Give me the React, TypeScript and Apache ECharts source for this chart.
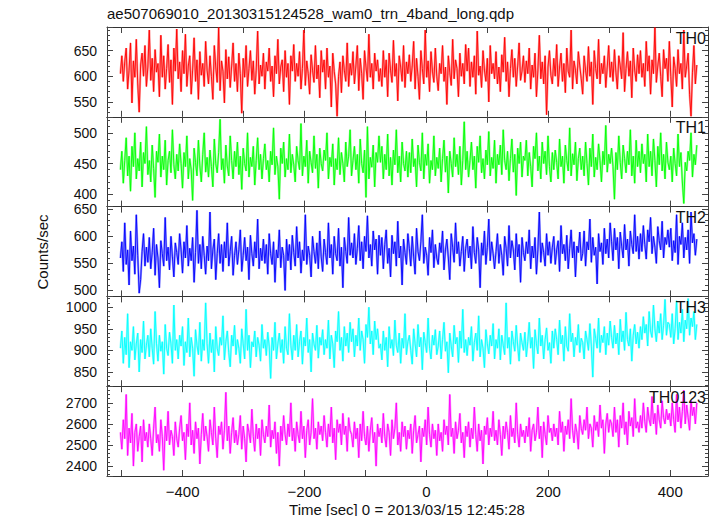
import React, { useEffect, useRef } from "react";
import * as echarts from "echarts";

// Time bins (start and width of each bin, in seconds)
const BIN_START = -502;
const BIN_WIDTH = 2.37;

const TH0 = [
  605, 640, 590, 628, 655, 575, 612, 665, 548, 630, 598, 672, 585, 530, 622, 645, 600, 660, 580, 618,
  690, 592, 635, 570, 652, 608, 625, 560, 680, 598, 640, 575, 615, 662, 588, 632, 545, 655, 610, 692,
  595, 628, 570, 650, 605, 682, 580, 620, 640, 565, 612, 675, 590, 632, 555, 648, 602, 625, 580, 668,
  612, 585, 640, 600, 555, 660, 618, 588, 695, 572, 630, 610, 548, 652, 595, 638, 578, 620, 665, 590,
  625, 570, 645, 605, 528, 635, 598, 660, 580, 615, 650, 592, 630, 565, 612, 688, 585, 622, 600, 645,
  575, 628, 610, 655, 590, 620, 560, 640, 605, 672, 585, 618, 632, 570, 650, 598, 625, 545, 640, 610,
  662, 590, 625, 600, 648, 575, 615, 690, 582, 630, 605, 565, 642, 612, 588, 660, 595, 622, 558, 650,
  608, 632, 575, 655, 598, 620, 540, 645, 610, 585, 522, 600, 628, 568, 640, 612, 590, 665, 580, 625,
  602, 648, 585, 620, 660, 572, 635, 605, 555, 650, 618, 590, 682, 598, 625, 575, 645, 610, 632, 590,
  615, 580, 650, 598, 632, 560, 645, 612, 588, 670, 600, 625, 552, 640, 618, 590, 660, 578, 628, 605,
  642, 590, 620, 668, 575, 635, 600, 555, 650, 615, 585, 690, 598, 630, 570, 648, 610, 588, 655, 600,
  572, 625, 605, 660, 590, 618, 545, 640, 608, 582, 672, 595, 632, 615, 560, 645, 600, 625, 585, 662,
  610, 655, 580, 628, 598, 640, 565, 688, 602, 620, 578, 650, 612, 590, 635, 550, 660, 605, 625, 595,
  648, 585, 618, 570, 642, 608, 676, 590, 628, 560, 615, 652, 598, 635, 580, 620, 665, 592, 610, 640,
  588, 630, 605, 655, 575, 622, 598, 645, 560, 612, 680, 595, 628, 585, 640, 525, 618, 650, 602, 585,
  635, 600, 662, 580, 618, 645, 590, 625, 568, 655, 610, 598, 690, 575, 630, 612, 585, 648, 620, 595,
  565, 640, 612, 590, 658, 600, 628, 545, 650, 615, 595, 672, 585, 625, 605, 640, 578, 618, 660, 598,
  628, 590, 652, 608, 575, 640, 620, 595, 685, 570, 615, 648, 600, 630, 558, 655, 612, 590, 642, 605,
  650, 598, 625, 580, 668, 610, 640, 565, 632, 605, 695, 588, 620, 645, 600, 560, 652, 615, 635, 590,
  668, 600, 540, 638, 615, 580, 652, 605, 625, 575, 690, 598, 620, 645, 565, 522, 608, 660, 585, 622,
];

const TH1 = [
  440, 470, 418, 455, 492, 430, 462, 405, 478, 445, 500, 425, 458, 438, 485, 412, 468, 450, 510, 432,
  455, 420, 480, 442, 395, 470, 452, 498, 428, 462, 440, 488, 415, 455, 470, 435, 505, 448, 425, 465,
  438, 482, 450, 410, 468, 445, 495, 425, 458, 440, 390, 475, 452, 430, 488, 446, 420, 465, 500, 436,
  460, 428, 472, 445, 412, 490, 450, 435, 468, 522, 440, 458, 418, 480, 446, 430, 495, 455, 425, 470,
  445, 485, 432, 462, 408, 475, 450, 438, 500, 428, 460, 445, 478, 415, 455, 492, 440, 465, 425, 458,
  482, 440, 455, 420, 470, 448, 508, 432, 462, 445, 392, 475, 450, 485, 428, 458, 440, 498, 435, 465,
  448, 420, 478, 455, 440, 515, 430, 462, 445, 488, 418, 470, 452, 435, 495, 442, 465, 410, 475, 450,
  438, 472, 455, 500, 425, 460, 445, 482, 415, 458, 440, 492, 432, 468, 450, 420, 485, 445, 462, 505,
  430, 455, 478, 440, 465, 418, 490, 450, 435, 472, 395, 510, 425, 460, 444, 480, 412, 468, 452, 495,
  452, 478, 425, 465, 440, 498, 430, 460, 415, 472, 448, 505, 435, 462, 420, 485, 450, 438, 470, 428,
  468, 435, 490, 445, 458, 412, 480, 452, 438, 500, 425, 465, 447, 482, 418, 455, 440, 495, 430, 460,
  442, 475, 420, 458, 488, 436, 462, 402, 470, 450, 428, 492, 445, 465, 432, 478, 415, 455, 518, 440,
  470, 428, 455, 485, 440, 462, 410, 478, 452, 495, 435, 458, 425, 472, 448, 502, 430, 460, 442, 488,
  418, 465, 448, 480, 432, 505, 455, 440, 470, 422, 458, 490, 436, 465, 398, 475, 450, 485, 428, 462,
  455, 488, 430, 468, 445, 412, 478, 458, 500, 438, 462, 425, 485, 450, 470, 432, 495, 445, 420, 468,
  440, 472, 452, 425, 490, 445, 462, 418, 480, 455, 438, 508, 430, 466, 448, 485, 422, 458, 475, 440,
  462, 430, 485, 450, 415, 475, 445, 498, 428, 460, 440, 482, 455, 420, 470, 448, 512, 436, 465, 450,
  475, 445, 392, 468, 440, 495, 452, 425, 480, 458, 435, 470, 448, 505, 430, 462, 418, 488, 445, 470,
  435, 482, 450, 465, 420, 498, 445, 470, 430, 490, 455, 412, 478, 448, 500, 438, 465, 425, 485, 452,
  440, 462, 420, 475, 450, 430, 498, 445, 468, 420, 385, 452, 438, 470, 455, 500, 428, 465, 448, 480,
];

const TH2 = [
  560, 590, 535, 625, 548, 575, 510, 610, 555, 582, 530, 640, 565, 495, 520, 572, 605, 545, 580, 552,
  598, 540, 570, 615, 528, 585, 560, 505, 592, 568, 545, 635, 555, 580, 538, 600, 562, 525, 588, 570,
  548, 605, 575, 532, 590, 560, 620, 545, 578, 555, 598, 515, 570, 648, 550, 585, 540, 600, 565, 530,
  582, 555, 645, 540, 575, 595, 520, 568, 605, 550, 585, 535, 590, 560, 625, 545, 572, 600, 528, 565,
  590, 548, 575, 612, 535, 565, 598, 555, 580, 520, 602, 568, 545, 590, 560, 632, 540, 578, 555, 595,
  550, 585, 530, 605, 568, 548, 590, 515, 575, 560, 612, 542, 580, 565, 500, 595, 555, 585, 538, 602,
  570, 545, 618, 560, 590, 532, 575, 555, 640, 548, 582, 565, 525, 600, 572, 550, 588, 540, 610, 562,
  535, 595, 570, 548, 625, 560, 585, 530, 600, 568, 555, 615, 545, 580, 505, 598, 572, 550, 635, 565,
  588, 560, 605, 548, 578, 620, 555, 590, 540, 600, 572, 638, 560, 585, 545, 610, 575, 595, 530, 602,
  565, 598, 540, 585, 612, 550, 578, 525, 602, 568, 590, 545, 628, 560, 582, 510, 595, 570, 548, 605,
  578, 545, 600, 562, 530, 615, 572, 555, 590, 640, 550, 580, 565, 528, 598, 570, 612, 542, 585, 560,
  548, 588, 570, 610, 538, 575, 595, 560, 520, 605, 580, 552, 625, 568, 590, 545, 572, 600, 535, 578,
  595, 560, 582, 540, 618, 570, 550, 598, 575, 505, 588, 565, 610, 548, 580, 632, 555, 590, 568, 540,
  572, 605, 550, 585, 565, 528, 600, 578, 545, 620, 560, 592, 575, 538, 605, 562, 585, 515, 598, 570,
  555, 590, 568, 612, 540, 582, 560, 598, 530, 575, 645, 552, 588, 570, 545, 605, 565, 590, 550, 580,
  600, 548, 575, 592, 535, 620, 568, 585, 555, 602, 540, 578, 612, 560, 590, 525, 582, 570, 608, 555,
  568, 610, 545, 590, 575, 632, 552, 598, 565, 580, 512, 605, 572, 588, 548, 615, 568, 595, 560, 625,
  590, 555, 615, 575, 598, 540, 608, 582, 560, 622, 575, 595, 545, 610, 585, 568, 640, 572, 600, 558,
  605, 572, 620, 585, 558, 612, 590, 635, 568, 600, 580, 550, 618, 592, 575, 628, 560, 598, 585, 612,
  580, 615, 555, 592, 570, 640, 548, 600, 585, 625, 560, 598, 575, 612, 550, 645, 588, 605, 565, 595,
];

const TH3 = [
  905, 945, 870, 930, 890, 985, 860, 920, 900, 955, 878, 915, 940, 850, 925, 895, 968, 880, 912, 935,
  885, 950, 905, 868, 990, 915, 875, 935, 898, 920, 845, 960, 905, 888, 942, 915, 870, 1005, 900, 925,
  880, 935, 910, 955, 865, 920, 895, 975, 885, 930, 905, 840, 948, 912, 890, 965, 875, 925, 900, 1010,
  915, 870, 940, 895, 925, 850, 955, 905, 888, 930, 912, 980, 878, 920, 945, 895, 862, 935, 910, 958,
  890, 925, 905, 870, 950, 915, 880, 995, 900, 935, 860, 920, 908, 945, 885, 930, 912, 875, 960, 905,
  925, 888, 942, 910, 835, 930, 900, 965, 880, 915, 940, 895, 925, 870, 955, 905, 890, 985, 912, 878,
  935, 900, 960, 885, 920, 945, 868, 930, 910, 975, 895, 925, 850, 940, 915, 900, 958, 882, 930, 912,
  948, 890, 925, 905, 970, 880, 935, 915, 860, 945, 920, 990, 900, 930, 875, 955, 910, 940, 895, 965,
  920, 950, 885, 935, 910, 975, 900, 945, 925, 870, 960, 930, 1000, 915, 945, 890, 968, 925, 950, 905,
  915, 878, 945, 900, 930, 862, 955, 905, 925, 888, 970, 912, 895, 940, 870, 928, 905, 985, 890, 920,
  935, 900, 868, 950, 915, 885, 960, 908, 930, 855, 942, 918, 895, 975, 905, 880, 935, 912, 948, 890,
  910, 945, 880, 925, 965, 898, 920, 848, 940, 910, 885, 958, 915, 930, 872, 945, 905, 995, 895, 925,
  888, 930, 912, 955, 875, 918, 940, 900, 980, 885, 925, 905, 860, 948, 915, 892, 935, 910, 962, 880,
  925, 905, 950, 878, 935, 912, 890, 1010, 905, 930, 868, 945, 920, 898, 958, 910, 875, 940, 918, 900,
  942, 885, 920, 965, 905, 930, 858, 948, 915, 892, 975, 910, 935, 880, 925, 952, 900, 918, 870, 945,
  905, 950, 925, 890, 970, 915, 935, 875, 955, 910, 898, 985, 920, 940, 885, 930, 912, 960, 895, 928,
  918, 880, 945, 925, 900, 962, 910, 838, 950, 928, 905, 975, 895, 935, 918, 955, 890, 940, 912, 968,
  930, 905, 958, 915, 940, 890, 972, 920, 945, 900, 988, 925, 910, 950, 875, 935, 960, 915, 942, 905,
  955, 925, 978, 940, 960, 910, 990, 945, 930, 1005, 950, 920, 968, 940, 985, 925, 958, 1018, 935, 965,
  960, 930, 985, 915, 950, 1015, 925, 965, 940, 995, 920, 970, 950, 1020, 935, 975, 955, 990, 925, 960,
];

const TH0123 = [
  2560, 2480, 2620, 2530, 2740, 2450, 2580, 2510, 2650, 2400, 2560, 2600, 2470, 2540, 2590, 2420, 2620, 2520, 2560, 2490,
  2600, 2530, 2450, 2580, 2680, 2510, 2550, 2470, 2620, 2540, 2380, 2590, 2520, 2660, 2500, 2570, 2540, 2450, 2610, 2530,
  2490, 2580, 2640, 2520, 2560, 2430, 2600, 2540, 2700, 2500, 2570, 2460, 2610, 2530, 2580, 2410, 2550, 2650, 2520, 2590,
  2540, 2470, 2620, 2560, 2500, 2680, 2530, 2440, 2590, 2550, 2610, 2480, 2570, 2750, 2520, 2590, 2460, 2560, 2630, 2510,
  2570, 2500, 2550, 2640, 2480, 2590, 2530, 2420, 2600, 2560, 2510, 2670, 2540, 2470, 2600, 2530, 2580, 2450, 2620, 2550,
  2510, 2590, 2540, 2690, 2490, 2570, 2530, 2610, 2460, 2560, 2400, 2590, 2520, 2640, 2550, 2500, 2600, 2540, 2700, 2520,
  2580, 2470, 2610, 2550, 2510, 2660, 2530, 2590, 2440, 2570, 2620, 2500, 2560, 2720, 2530, 2580, 2480, 2610, 2550, 2590,
  2520, 2640, 2560, 2490, 2600, 2540, 2680, 2510, 2580, 2430, 2620, 2560, 2600, 2500, 2650, 2550, 2590, 2470, 2630, 2570,
  2550, 2490, 2610, 2530, 2580, 2440, 2600, 2520, 2660, 2540, 2500, 2590, 2470, 2570, 2630, 2510, 2560, 2400, 2600, 2540,
  2580, 2510, 2650, 2540, 2490, 2600, 2560, 2450, 2620, 2530, 2580, 2700, 2500, 2560, 2470, 2610, 2540, 2590, 2480, 2570,
  2530, 2600, 2460, 2570, 2640, 2510, 2550, 2590, 2420, 2580, 2540, 2620, 2500, 2680, 2550, 2490, 2600, 2530, 2570, 2450,
  2600, 2520, 2560, 2470, 2620, 2550, 2590, 2500, 2740, 2540, 2580, 2460, 2610, 2530, 2570, 2650, 2510, 2560, 2440, 2590,
  2540, 2610, 2490, 2580, 2530, 2680, 2550, 2470, 2600, 2520, 2570, 2410, 2590, 2550, 2630, 2500, 2580, 2540, 2660, 2520,
  2570, 2500, 2620, 2550, 2450, 2590, 2530, 2610, 2560, 2480, 2640, 2540, 2580, 2510, 2700, 2550, 2490, 2600, 2540, 2570,
  2510, 2590, 2540, 2630, 2470, 2570, 2600, 2520, 2560, 2680, 2530, 2590, 2440, 2610, 2550, 2500, 2640, 2560, 2580, 2520,
  2600, 2540, 2580, 2500, 2660, 2560, 2610, 2470, 2590, 2550, 2620, 2530, 2720, 2570, 2510, 2600, 2560, 2480, 2640, 2580,
  2550, 2620, 2570, 2680, 2530, 2600, 2580, 2490, 2640, 2570, 2610, 2540, 2690, 2580, 2620, 2460, 2600, 2650, 2560, 2620,
  2600, 2540, 2680, 2560, 2620, 2490, 2640, 2580, 2700, 2550, 2610, 2500, 2660, 2590, 2630, 2540, 2720, 2580, 2610, 2560,
  2640, 2580, 2700, 2610, 2560, 2680, 2620, 2590, 2730, 2600, 2650, 2550, 2690, 2620, 2580, 2710, 2630, 2600, 2670, 2620,
  2650, 2590, 2700, 2620, 2560, 2740, 2610, 2680, 2580, 2660, 2760, 2600, 2690, 2630, 2570, 2710, 2640, 2680, 2600, 2700,
];

const SERIES_VALUES = [TH0, TH1, TH2, TH3, TH0123];
const PANEL_NAMES = ["TH0", "TH1", "TH2", "TH3", "TH0123"];
const COLORS = ["#ff0000", "#00ff00", "#0000ff", "#00ffff", "#ff00ff"];
const HALO = ["rgba(255,0,0,0.4)", "rgba(0,255,0,0.4)", "rgba(0,0,255,0.4)", "rgba(0,255,255,0.4)", "rgba(255,0,255,0.4)"];
const Y_MIN = [521, 380, 489, 817, 2353];
const Y_MAX = [696, 526, 655, 1025, 2779];
const Y_LABEL_STEP = [50, 50, 50, 50, 100];
const Y_SPLIT = [4, 3, 3, 4, 4];
const X_MIN = -524;
const X_MAX = 462;
const X_LABEL_STEP = 200;

const TITLE = "ae507069010_20130315124528_wam0_trn_4band_long.qdp";
const X_TITLE = "Time [sec] 0 = 2013/03/15 12:45:28";
const Y_TITLE = "Counts/sec";

const FONT = "'Liberation Sans', Arial, Helvetica, sans-serif";

export default function App() {
  const ref = useRef<HTMLDivElement>(null);
  useEffect(() => {
    if (!ref.current) return;
    const chart = echarts.init(ref.current, undefined, { renderer: "svg" });
    const GRID_LEFT = 107;
    const GRID_RIGHT = 9;
    const TOP = 27;
    const PH = 89.8;
    const grids: any[] = [];
    const xAxes: any[] = [];
    const yAxes: any[] = [];
    const series: any[] = [];
    const graphics: any[] = [];
    const lineCol = "#333";
    const tickCol = "#444";
    for (let i = 0; i < 5; i++) {
      grids.push({
        left: GRID_LEFT,
        right: GRID_RIGHT,
        top: TOP + i * PH,
        height: PH,
        show: false,
        outerBoundsMode: "none",
      });
      const xBase = {
        type: "value",
        gridIndex: i,
        min: X_MIN,
        max: X_MAX,
        splitNumber: 10,
        splitLine: { show: false },
        axisLine: { show: true, onZero: false, lineStyle: { color: lineCol, width: 1 } },
        axisTick: { show: true, inside: true, length: 6, lineStyle: { color: tickCol } },
      };
      xAxes.push({
        ...xBase,
        position: "bottom",
        axisLabel: {
          show: i === 4,
          fontSize: 15,
          color: "#111",
          fontFamily: FONT,
          margin: 8,
          formatter: (v: number) =>
            Math.abs(v % X_LABEL_STEP) < 1e-6 ? (v < 0 ? "\u2212" + Math.abs(v) : String(v)) : "",
        },
      });
      xAxes.push({ ...xBase, position: "top", axisLabel: { show: false } });
      const yBase = {
        type: "value",
        gridIndex: i,
        min: Y_MIN[i],
        max: Y_MAX[i],
        splitNumber: Y_SPLIT[i],
        splitLine: { show: false },
        axisLine: { show: true, onZero: false, lineStyle: { color: lineCol, width: 1 } },
        axisTick: { show: true, inside: true, length: 6, lineStyle: { color: tickCol } },
        minorTick: { show: true, splitNumber: 5, length: 3, lineStyle: { color: tickCol } },
      };
      const step = Y_LABEL_STEP[i];
      yAxes.push({
        ...yBase,
        position: "left",
        axisLabel: {
          show: true,
          fontSize: 14,
          color: "#111",
          fontFamily: FONT,
          margin: 10,
          formatter: (v: number) => (Math.abs(v % step) < 1e-6 ? String(v) : ""),
        },
      });
      yAxes.push({ ...yBase, position: "right", axisLabel: { show: false } });

      const data = SERIES_VALUES[i].map((v, k) => [BIN_START + k * BIN_WIDTH, v]);
      series.push({
        type: "line",
        xAxisIndex: i * 2,
        yAxisIndex: i * 2,
        data,
        showSymbol: false,
        symbol: "none",
        lineStyle: { color: HALO[i], width: 2.2 },
        silent: true,
        z: 2,
      });
      series.push({
        type: "line",
        xAxisIndex: i * 2,
        yAxisIndex: i * 2,
        data,
        showSymbol: false,
        symbol: "none",
        lineStyle: { color: COLORS[i], width: 0.9 },
        silent: true,
        z: 3,
      });
      graphics.push({
        type: "text",
        right: 11,
        top: TOP + i * PH + 3,
        z: 10,
        style: { text: PANEL_NAMES[i], fontSize: 16, fill: "#111", fontFamily: FONT },
      });
    }
    graphics.push({
      type: "text",
      left: GRID_LEFT,
      top: 6,
      style: { text: TITLE, fontSize: 15, fill: "#111", fontFamily: FONT },
    });
    graphics.push({
      type: "text",
      x: 407,
      y: 509,
      style: { text: X_TITLE, fontSize: 15, fill: "#111", fontFamily: FONT, textAlign: "center", textVerticalAlign: "middle" },
    });
    graphics.push({
      type: "text",
      x: 42,
      y: 252,
      rotation: Math.PI / 2,
      style: { text: Y_TITLE, fontSize: 15, fill: "#111", fontFamily: FONT, textAlign: "center", textVerticalAlign: "middle" },
    });
    chart.setOption({
      animation: false,
      backgroundColor: "#fff",
      grid: grids,
      xAxis: xAxes,
      yAxis: yAxes,
      series,
      graphic: graphics,
    });
    return () => chart.dispose();
  }, []);
  return <div ref={ref} style={{ position: "fixed", left: 0, top: 0, width: 717, height: 516 }} />;
}
